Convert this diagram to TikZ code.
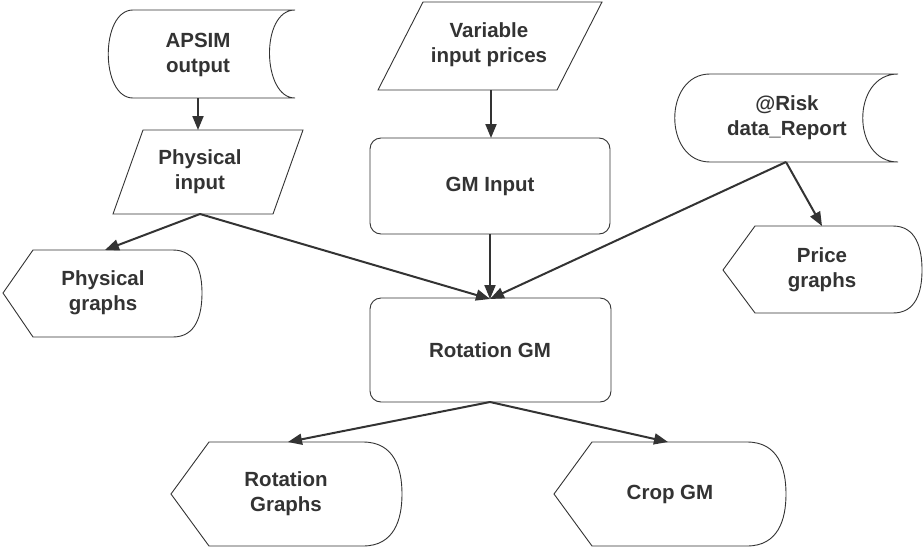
\documentclass[tikz,border=0pt]{standalone}
\usepackage{fontspec}
\setmainfont{Liberation Sans}
\usetikzlibrary{arrows.meta}
\definecolor{ink}{HTML}{333333}
\begin{document}
\begin{tikzpicture}[x=1pt,y=-1pt,
  shapeline/.style={draw=ink,line width=0.9pt,fill=white},
  conn/.style={draw=ink,line width=2pt,-{Triangle[length=14pt,width=11pt]}},
  label/.style={text=ink,font=\fontsize{20.5}{25}\selectfont\bfseries,align=center,inner sep=0pt}]
\useasboundingbox (0,0) rectangle (923,549);
% APSIM output (stored data)
\path[shapeline] (133,10) -- (295,10) .. controls (260,10) and (262,98) .. (295,98) -- (133,98)
  .. controls (100,98) and (100,10) .. (133,10) -- cycle;
\node[label] (apsim) at (198,55) {APSIM\\output};
% Variable input prices (parallelogram)
\path[shapeline] (423,2) -- (602,2) -- (557,90) -- (378,90) -- cycle;
\node[label] (varin) at (489,45) {Variable\\input prices};
% @Risk data_Report (stored data)
\path[shapeline] (710,74) -- (898,74) .. controls (851,74) and (851,162) .. (898,162) -- (710,162)
  .. controls (663,162) and (663,74) .. (710,74) -- cycle;
\node[label] (risk) at (787,118) {@Risk\\data\_Report};
% Physical input (parallelogram)
\path[shapeline] (143,130) -- (303,130) -- (273,214) -- (113,214) -- cycle;
\node[label] (physin) at (200,172) {Physical\\input};
% GM Input
\path[shapeline,rounded corners=11pt] (370,138) rectangle (610,234);
\node[label] (gmin) at (490,186) {GM Input};
% Rotation GM
\path[shapeline,rounded corners=11pt] (370,298) rectangle (611,402);
\node[label] (rotgm) at (490,350) {Rotation GM};
% Physical graphs (display)
\path[shapeline] (3,293) -- (33,250) -- (173,250) .. controls (196,250) and (202,272) .. (202,293)
  .. controls (202,315) and (196,337) .. (173,337) -- (33,337) -- cycle;
\node[label] (physgr) at (103,293) {Physical\\graphs};
% Price graphs (display)
\path[shapeline] (723,270) -- (755,226) -- (893,226) .. controls (916,226) and (922,248) .. (922,270)
  .. controls (922,292) and (916,313) .. (893,313) -- (755,313) -- cycle;
\node[label] (pricegr) at (822,270) {Price\\graphs};
% Rotation Graphs (display)
\path[shapeline] (171,494) -- (209,442) -- (363,442) .. controls (394,442) and (402,468) .. (402,494)
  .. controls (402,520) and (394,546) .. (363,546) -- (209,546) -- cycle;
\node[label] (rotgr) at (286,494) {Rotation\\Graphs};
% Crop GM (display)
\path[shapeline] (554,494) -- (592,442) -- (747,442) .. controls (778,442) and (786,468) .. (786,494)
  .. controls (786,520) and (778,546) .. (747,546) -- (592,546) -- cycle;
\node[label] (cropgm) at (670,494) {Crop GM};
% connector end points
\coordinate (apsim-s) at (198,98);
\coordinate (physin-n) at (198,130);
\coordinate (physin-s) at (200,214);
\coordinate (varin-s) at (491,90);
\coordinate (gmin-n) at (491,138);
\coordinate (gmin-s) at (490,234);
\coordinate (rotgm-n) at (490,299);
\coordinate (rotgm-s) at (490,402);
\coordinate (risk-s) at (786,162);
\coordinate (pricegr-n) at (822,226);
\coordinate (physgr-n) at (105,250);
\coordinate (rotgr-n) at (288,442);
\coordinate (cropgm-n) at (668,442);
% connectors
\draw[conn] (apsim-s) -- (physin-n);
\draw[conn] (varin-s) -- (gmin-n);
\draw[conn] (gmin-s) -- (rotgm-n);
\draw[conn] (physin-s) -- (rotgm-n);
\draw[conn] (risk-s) -- (rotgm-n);
\draw[conn] (risk-s) -- (pricegr-n);
\draw[conn] (physin-s) -- (physgr-n);
\draw[conn] (rotgm-s) -- (rotgr-n);
\draw[conn] (rotgm-s) -- (cropgm-n);
\end{tikzpicture}
\end{document}
